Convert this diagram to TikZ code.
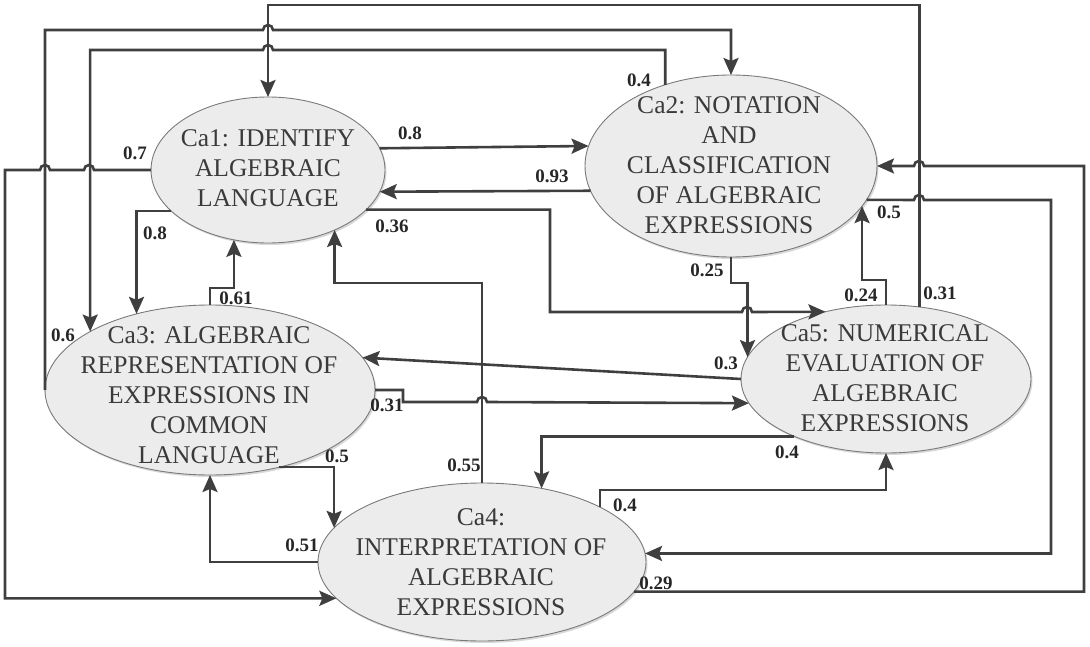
\documentclass[tikz,border=0pt]{standalone}
\usepackage{fontspec}
\setmainfont{Liberation Serif}
\usetikzlibrary{arrows.meta,shapes.geometric,shadows}
\definecolor{lc}{HTML}{3F3F3F}
\definecolor{tc}{HTML}{3A3A3A}
\definecolor{ef}{HTML}{ECECEC}
\definecolor{eb}{HTML}{7A7A7A}
\tikzset{
  ell/.style={ellipse, draw=eb, line width=0.9pt, fill=ef, inner sep=0pt, outer sep=0pt,
    drop shadow={shadow xshift=1.5pt, shadow yshift=-2pt, opacity=0.25, fill=black!60}},
  etext/.style={align=center, text=tc, inner sep=0pt, font=\fontsize{25.5}{30}\selectfont},
  conn/.style={line width=2.6pt, draw=lc, -{Stealth[length=17pt,width=15pt,inset=3pt]}},
  lab/.style={inner sep=0pt, text=black!85, font=\fontsize{19}{22}\selectfont\bfseries}
}
\begin{document}
\begin{tikzpicture}[x=1pt,y=-1pt]
\useasboundingbox (0,0) rectangle (1090,647);
% ellipses
\node[ell, minimum width=234pt, minimum height=146pt] (Ca1) at (268,170) {};
\node[ell, minimum width=292pt, minimum height=182pt] (Ca2) at (731,166) {};
\node[ell, minimum width=330pt, minimum height=170pt] (Ca3) at (210,390) {};
\node[ell, minimum width=328pt, minimum height=158pt] (Ca4) at (482,562) {};
\node[ell, minimum width=290pt, minimum height=148pt] (Ca5) at (886,379) {};
% connectors
\draw[conn] (Ca5.65.4) |- (268,5) -- (Ca1.north);
\draw[conn] (Ca3.west) |- (263,30) arc[start angle=180,end angle=0,radius=5pt] -| (Ca2.north);
\draw[conn] (Ca2.129.1) |- (273,50) arc[start angle=0,end angle=180,radius=5pt] -| (Ca3.154.5);
\draw[conn] (Ca1.west) -- (94,170) arc[start angle=0,end angle=180,radius=5pt] -- (50,170)
  arc[start angle=0,end angle=180,radius=5pt] -- (5,170) |- (Ca4.-166.6);
\draw[conn] (Ca1.11.15) -- (Ca2.172.83);
\draw[conn] (Ca2.190.96) -- (Ca1.-11.7);
\draw[conn] (Ca1.-22.95) -| (550,312) -- (742,312) arc[start angle=180,end angle=0,radius=5pt] -- (Ca5.132.6);
\draw[conn] (Ca1.-157.85) -| (Ca3.134.2);
\draw[conn] (Ca3.north) -- ++(0,-17) -| (Ca1.-116.66);
\draw[conn] (Ca4.north) -- ++(0,-200) -| (Ca1.-42.4);
\draw[conn] (Ca2.south) -- ++(0,26) -| (Ca5.171.37);
\draw[conn] (Ca5.west) -- (Ca3.12.8);
\draw[conn] (Ca3.east) -- ++(28,0) |- (477,402) arc[start angle=180,end angle=0,radius=5pt] -- (Ca5.-170.53);
\draw[conn] (Ca5.-148.13) -| (Ca4.51.87);
\draw[conn] (Ca4.25.3) |- (886,490) -- (Ca5.south);
\draw[conn] (Ca2.-14.1) -- (914,200) arc[start angle=180,end angle=0,radius=5pt] -- (1051,200) |- (Ca4.3.16);
\draw[conn] (Ca4.-11.6) -| (1084,166) -- (924,166) arc[start angle=0,end angle=180,radius=5pt] -- (Ca2.east);
\draw[conn] (Ca3.-48.7) -| (Ca4.167.06);
\draw[conn] (Ca4.west) -| (Ca3.south);
\draw[conn] (Ca5.north) -- ++(0,-25) -| (Ca2.-17.67);
% texts
\node[etext] (t1) at (268,168) {Ca1: IDENTIFY\\ALGEBRAIC\\LANGUAGE};
\node[etext] (t2) at (729,165) {Ca2: NOTATION\\AND\\CLASSIFICATION\\OF ALGEBRAIC\\EXPRESSIONS};
\node[etext] (t3) at (209,395) {Ca3: ALGEBRAIC\\REPRESENTATION OF\\EXPRESSIONS IN\\COMMON\\LANGUAGE};
\node[etext] (t4) at (481,562) {Ca4:\\INTERPRETATION OF\\ALGEBRAIC\\EXPRESSIONS};
\node[etext] (t5) at (885,378) {Ca5: NUMERICAL\\EVALUATION OF\\ALGEBRAIC\\EXPRESSIONS};
% labels
\node[lab] (l1) at (940,293) {0.31};
\node[lab] (l2) at (63,335) {0.6};
\node[lab] (l3) at (639,80) {0.4};
\node[lab] (l4) at (135,153) {0.7};
\node[lab] (l5) at (410,133) {0.8};
\node[lab] (l6) at (552,176) {0.93};
\node[lab] (l7) at (392,226) {0.36};
\node[lab] (l8) at (155,233) {0.8};
\node[lab] (l9) at (236,298) {0.61};
\node[lab] (l10) at (464,465) {0.55};
\node[lab] (l11) at (707,270) {0.25};
\node[lab] (l12) at (726,363) {0.3};
\node[lab] (l13) at (387,405) {0.31};
\node[lab] (l14) at (787,452) {0.4};
\node[lab] (l15) at (625,505) {0.4};
\node[lab] (l16) at (889,212) {0.5};
\node[lab] (l17) at (656,583) {0.29};
\node[lab] (l18) at (337,456) {0.5};
\node[lab] (l19) at (302,545) {0.51};
\node[lab] (l20) at (861,295) {0.24};
\end{tikzpicture}
\end{document}
